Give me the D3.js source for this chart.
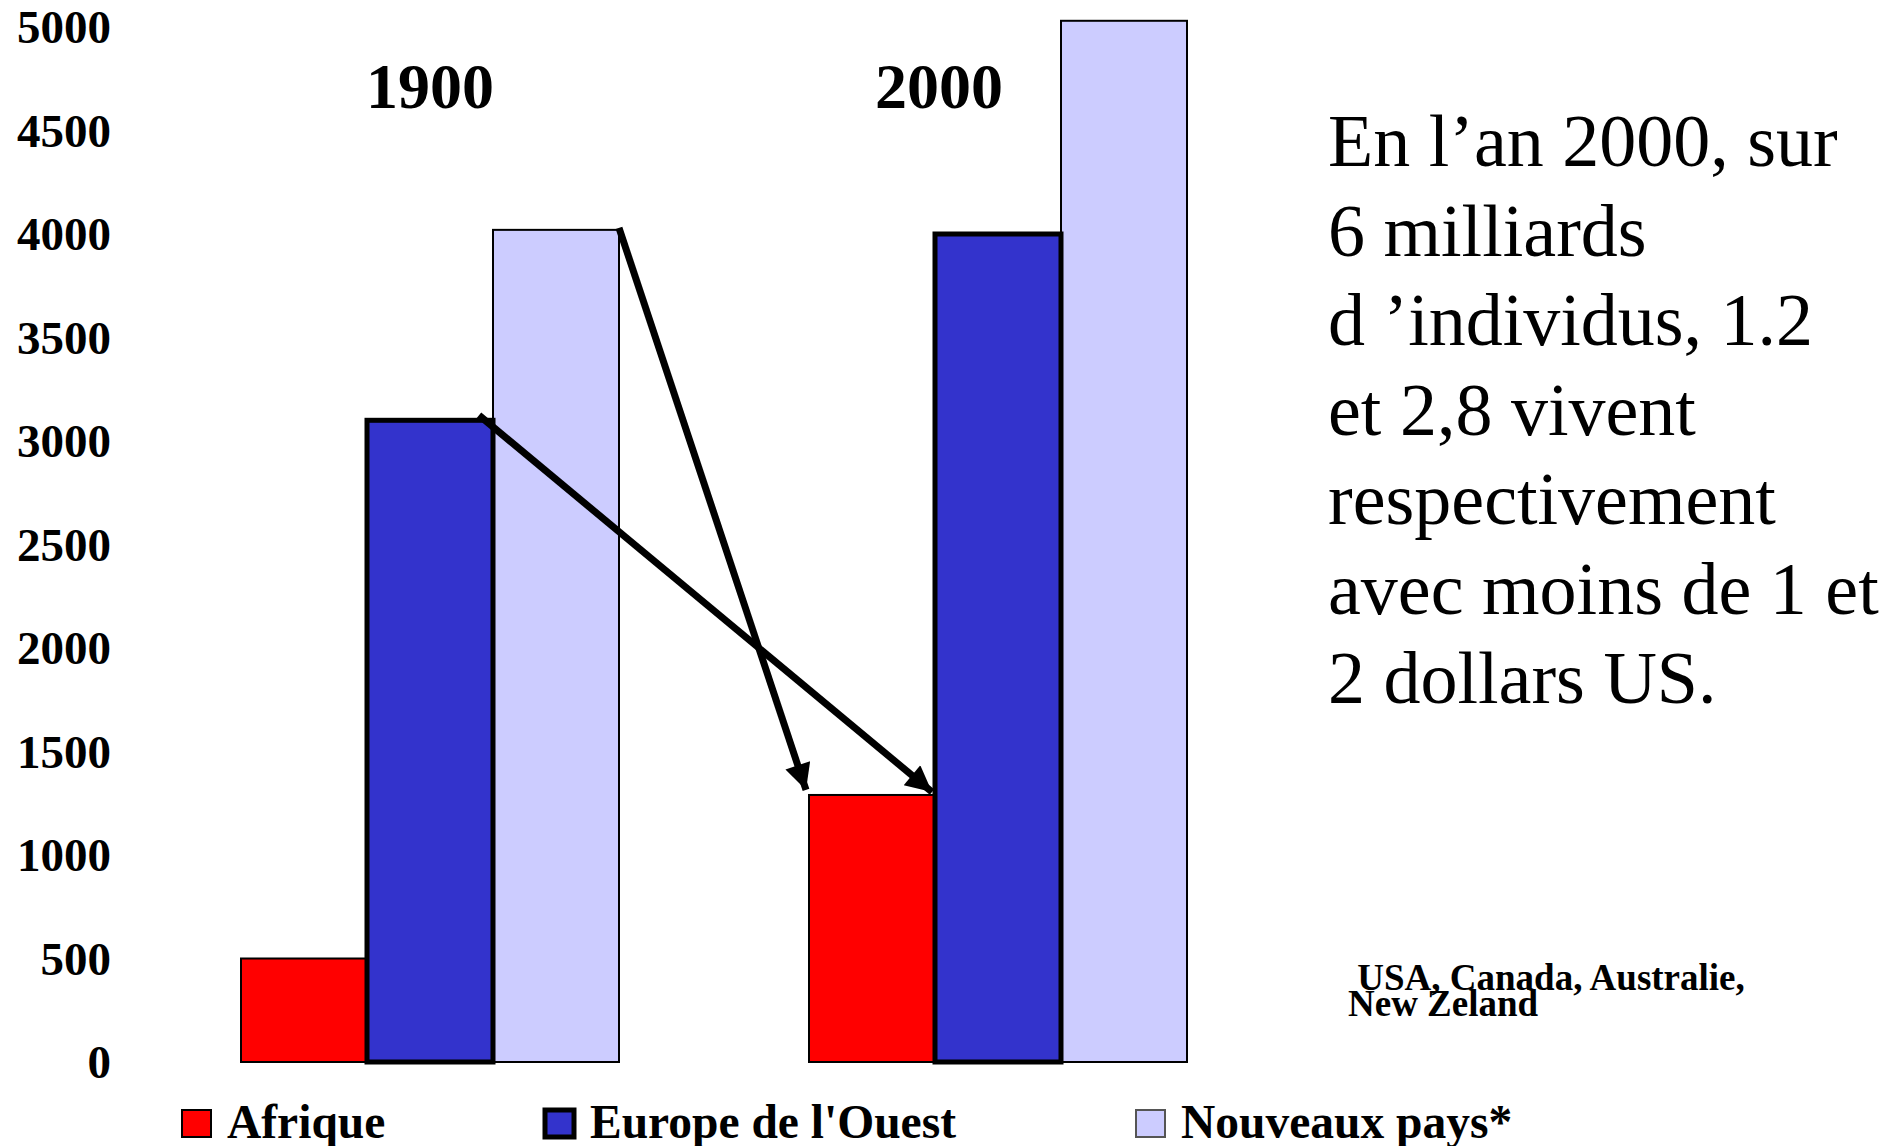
<!DOCTYPE html>
<html>
<head>
<meta charset="utf-8">
<script src="https://cdn.jsdelivr.net/npm/d3@7/dist/d3.min.js"></script>
<style>
  html, body { margin: 0; padding: 0; background: #fff; overflow: hidden; }
  svg { display: block; }
  text { font-family: "Liberation Serif", "Times New Roman", serif; }
</style>
</head>
<body>
<svg id="chart" width="1891" height="1146"></svg>
<script>
// ---- data ----
const years = ["1900", "2000"];
const seriesNames = ["Afrique", "Europe de l'Ouest", "Nouveaux pays*"];
const afrique = [500, 1290];
const europe = [3100, 4000];
const nouveaux = [4020, 5030];
const yTicks = [0, 500, 1000, 1500, 2000, 2500, 3000, 3500, 4000, 4500, 5000];
const noteLines = [
  "En l\u2019an 2000, sur",
  "6 milliards",
  "d \u2019individus, 1.2",
  "et 2,8 vivent",
  "respectivement",
  "avec moins de 1 et",
  "2 dollars US."
];
const footLines = [" USA, Canada, Australie,", "New Zeland"];

// ---- styles ----
const fills = ["#FF0000", "#3333CC", "#CCCCFF"];
const strokeW = [2, 5, 2];

const svg = d3.select("#chart");

const x = d3.scaleBand().domain(years).range([241, 1187]).paddingInner(190 / 568).paddingOuter(0);
const xs = d3.scaleBand().domain(seriesNames).range([0, x.bandwidth()]).padding(0);
const y = d3.scaleLinear().domain([0, 5000]).range([1062, 27]);

const values = [afrique, europe, nouveaux];
const rows = [];
years.forEach((yr, i) => {
  seriesNames.forEach((s, j) => rows.push({ yr, s, j, v: values[j][i] }));
});

// y axis
const yAxis = d3.axisLeft(y).tickValues(yTicks).tickSize(0).tickPadding(0).tickFormat(d3.format("d"));
const ga = svg.append("g").attr("transform", "translate(111,0)").call(yAxis);
ga.select(".domain").remove();
ga.selectAll("text")
  .attr("font-family", "Liberation Serif, Times New Roman, serif")
  .attr("font-weight", "bold")
  .attr("font-size", 47)
  .attr("fill", "#000")
  .attr("dy", "0.34em");

// bars: draw thin ones first, thick (Europe) last so border sits on top
const order = rows.slice().sort((a, b) => (a.j === 1) - (b.j === 1));
svg.append("g").selectAll("rect").data(order).join("rect")
  .attr("x", d => x(d.yr) + xs(d.s))
  .attr("y", d => y(d.v))
  .attr("width", xs.bandwidth())
  .attr("height", d => y(0) - y(d.v))
  .attr("fill", d => fills[d.j])
  .attr("stroke", "#000")
  .attr("stroke-width", d => strokeW[d.j]);

// year labels
const yearOffsets = [0, -59];
svg.append("g").selectAll("text").data(years).join("text")
  .attr("x", (d, i) => x(d) + x.bandwidth() / 2 + yearOffsets[i])
  .attr("y", 108)
  .attr("text-anchor", "middle")
  .attr("font-weight", "bold")
  .attr("font-size", 64)
  .text(d => d);

// arrows
const defs = svg.append("defs");
defs.append("marker")
  .attr("id", "ah").attr("viewBox", "0 0 10 10")
  .attr("refX", 10).attr("refY", 5)
  .attr("markerUnits", "userSpaceOnUse")
  .attr("markerWidth", 30).attr("markerHeight", 26)
  .attr("orient", "auto")
  .append("path").attr("d", "M0,0 L10,5 L0,10 Z").attr("fill", "#000");

const bw = xs.bandwidth();
const arrows = [
  { x1: x("1900") + xs("Nouveaux pays*") + bw, y1: y(nouveaux[0]) - 2,
    x2: x("2000") + xs("Afrique") - 3, y2: y(afrique[1]) - 5 },
  { x1: x("1900") + xs("Europe de l'Ouest") + bw - 14, y1: y(europe[0]) - 5,
    x2: x("2000") + xs("Afrique") + bw - 3, y2: y(afrique[1]) - 3 }
];
svg.append("g").selectAll("line").data(arrows).join("line")
  .attr("x1", d => d.x1).attr("y1", d => d.y1)
  .attr("x2", d => d.x2).attr("y2", d => d.y2)
  .attr("stroke", "#000").attr("stroke-width", 7)
  .attr("marker-end", "url(#ah)");

// note text
svg.append("g").selectAll("text").data(noteLines).join("text")
  .attr("x", 1328)
  .attr("y", (d, i) => 166 + i * 89.5)
  .attr("font-size", 74)
  .attr("fill", "#000")
  .style("white-space", "pre")
  .text(d => d);

// footnote
svg.append("g").selectAll("text").data(footLines).join("text")
  .attr("x", 1348)
  .attr("y", (d, i) => 990 + i * 26)
  .attr("font-size", 37)
  .attr("font-weight", "bold")
  .style("white-space", "pre")
  .text(d => d);

// legend
const legX = [182, 545, 1136];
const leg = svg.append("g").selectAll("g").data(seriesNames).join("g")
  .attr("transform", (d, i) => `translate(${legX[i]},1110)`);
leg.append("rect")
  .attr("width", 29).attr("height", 27)
  .attr("fill", (d, i) => fills[i])
  .attr("stroke", (d, i) => i === 2 ? "#555" : "#000")
  .attr("stroke-width", (d, i) => i === 1 ? 5 : 2);
leg.append("text")
  .attr("x", 45).attr("y", 28)
  .attr("font-size", 47.5)
  .attr("font-weight", "bold")
  .text(d => d);
</script>
</body>
</html>
